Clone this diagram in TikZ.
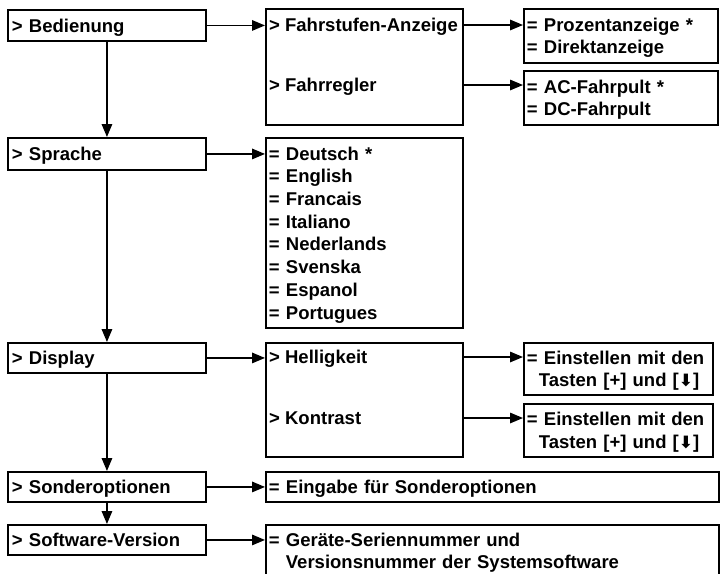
\documentclass[tikz,border=0pt]{standalone}
\usepackage{fontspec}
\setmainfont{Liberation Sans}
\newfontfamily\pfeilfont[BoldFont={DejaVu Sans Bold}]{DejaVu Sans}
\usepackage{tikz}
\usetikzlibrary{arrows.meta,positioning}

\newcommand{\lbl}{\fontsize{18.5}{22.7}\selectfont\bfseries}
\newcommand{\runter}{{\pfeilfont\fontsize{17}{17}\selectfont ⬇}}

\begin{document}
\begin{tikzpicture}[x=1pt, y=-1pt,
    menu/.style={draw, line width=1.9pt, anchor=north west, inner xsep=4pt, inner ysep=0pt,
                 text width=190pt, minimum height=31pt, align=left, font=\lbl,
                 text height=13.2pt, text depth=0pt},
    liste/.style={draw, line width=1.9pt, anchor=north west, inner xsep=3pt, inner ysep=0pt,
                  align=left, font=\lbl, text height=17.2pt},
    rahmen/.style={draw, line width=1.9pt, anchor=north west, inner sep=0pt},
    item/.style={anchor=west, inner sep=0pt, font=\lbl, text height=13.2pt, text depth=0pt},
    pfeil/.style={line width=1.5pt, -{Triangle[length=13pt, width=10.5pt]}}]
\useasboundingbox (0,0) rectangle (722,573);

% linke Spalte
\node[menu] (Bedienung) at (7,9) {> Bedienung};
\node[menu, minimum height=32pt] (Sprache) at (7,137) {> Sprache};
\node[menu, minimum height=30pt] (Display) at (7,342) {> Display};
\node[menu, minimum height=30pt] (Sonder) at (7,471) {> Sonderoptionen};
\node[menu, minimum height=30pt] (Software) at (7,524) {> Software-Version};

% Bedienung
\node[rahmen, minimum width=197pt, minimum height=116pt] (FahrBox) at (265,8) {};
\node[item] (FahrStufe) at (269,25) {> Fahrstufen-Anzeige};
\node[item] (FahrRegler) at (269,85) {> Fahrregler};
\node[liste, text width=188pt, minimum height=54pt] (Prozent) at (523,8)
    {= Prozentanzeige *\\= Direktanzeige};
\node[liste, text width=188pt, minimum height=54pt] (Fahrpult) at (523,70)
    {= AC-Fahrpult *\\= DC-Fahrpult};

% Sprache
\node[liste, text width=191pt, minimum height=190pt] (Sprachen) at (265,137)
    {= Deutsch *\\= English\\= Francais\\= Italiano\\= Nederlands\\= Svenska\\= Espanol\\= Portugues};

% Display
\node[rahmen, minimum width=197pt, minimum height=114pt] (DispBox) at (265,342) {};
\node[item] (Hell) at (269,357) {> Helligkeit};
\node[item] (Kontrast) at (269,418) {> Kontrast};
\node[liste, text width=183pt, minimum height=52pt] (HellWert) at (523,342)
    {= Einstellen mit den\\\hspace{12pt}Tasten [+] und [\runter]};
\node[liste, text width=183pt, minimum height=53pt] (KontrastWert) at (523,403)
    {= Einstellen mit den\\\hspace{12pt}Tasten [+] und [\runter]};

% Sonderoptionen, Software
\node[liste, text width=447pt, minimum height=30pt, text height=13.2pt, text depth=0pt] (SonderWert) at (265,471)
    {= Eingabe für Sonderoptionen};
\node[liste, text width=447pt, minimum height=52pt] (SoftWert) at (265,524)
    {= Geräte-Seriennummer und\\\phantom{= }Versionsnummer der Systemsoftware};

% Pfeile
\draw[pfeil] (Bedienung.south) -- (Sprache.north);
\draw[pfeil] (Sprache.south) -- (Display.north);
\draw[pfeil] (Display.south) -- (Sonder.north);
\draw[pfeil] (Sonder.south) -- (Software.north);

\draw[pfeil] (Bedienung.east) -- (Bedienung.east -| FahrBox.west);
\draw[pfeil] (FahrStufe -| FahrBox.east) -- (FahrStufe -| Prozent.west);
\draw[pfeil] (FahrRegler -| FahrBox.east) -- (FahrRegler -| Fahrpult.west);
\draw[pfeil] (Sprache.east) -- (Sprache.east -| Sprachen.west);
\draw[pfeil] (Display.east) -- (Display.east -| DispBox.west);
\draw[pfeil] (Hell -| DispBox.east) -- (Hell -| HellWert.west);
\draw[pfeil] (Kontrast -| DispBox.east) -- (Kontrast -| KontrastWert.west);
\draw[pfeil] (Sonder.east) -- (Sonder.east -| SonderWert.west);
\draw[pfeil] (Software.east) -- (Software.east -| SoftWert.west);

\end{tikzpicture}
\end{document}
